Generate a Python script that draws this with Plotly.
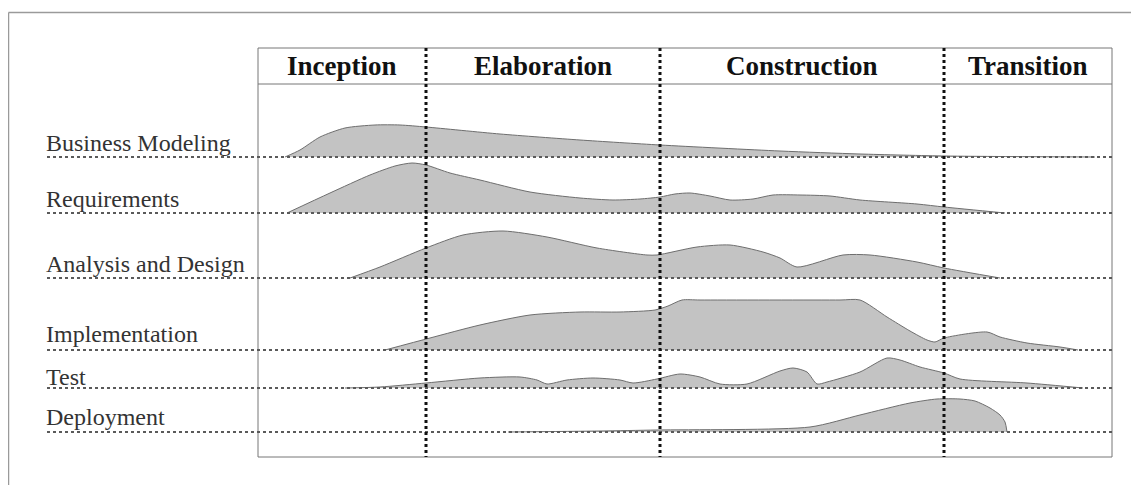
import plotly.graph_objects as go

# ---------------- data ----------------
phases = ["Inception", "Elaboration", "Construction", "Transition"]
phase_edges = [258, 426, 660, 944, 1112]          # time axis (chart units)

disciplines = ["Business Modeling", "Requirements", "Analysis and Design",
               "Implementation", "Test", "Deployment"]
row_base = [157, 213, 278, 350, 388, 432]          # baseline of each row
label_gap = [-1, -1, -1, 1, -4, 0]

bm_t = [285, 300, 320, 345, 375, 400, 426, 500, 580, 660, 780, 860, 945, 1000, 1095]
bm_h = [0, 7, 20, 29, 32, 32, 30, 23, 17, 12, 6, 3, 1, 0.5, 0]

req_t = [287, 330, 370, 395, 412, 426, 450, 480, 530, 580, 613, 640, 660, 675, 690,
         710, 730, 753, 773, 800, 830, 860, 917, 944, 1005]
req_h = [0, 20, 38, 47, 50, 48, 40, 33, 21, 15, 13, 14, 16, 19, 20,
         17, 13, 14, 18, 18, 17, 13, 9, 6, 0]

ad_t = [350, 380, 426, 463, 503, 547, 597, 647, 657, 697, 730, 763, 780, 797, 843,
        870, 917, 944, 1000]
ad_h = [0, 11, 30, 43, 47, 41, 30, 23, 23, 31, 33, 26, 20, 11, 23,
        23, 16, 10, 0]

imp_t = [385, 430, 480, 530, 580, 620, 655, 668, 682, 700, 840, 860, 887, 910, 927,
         935, 944, 987, 1000, 1027, 1060, 1078]
imp_h = [0, 12, 25, 35, 38, 38, 40, 44, 50, 50, 50, 50, 33, 19, 10,
         8, 12, 18, 13, 7, 3, 0]

test_t = [345, 380, 426, 480, 520, 537, 547, 567, 593, 620, 633, 657, 680, 700, 720,
          747, 780, 793, 807, 817, 827, 860, 887, 900, 920, 944, 960, 1027, 1083]
test_h = [0, 1, 5, 10, 11, 8, 4, 8, 10, 8, 5, 9, 14, 11, 4,
          4, 17, 20, 16, 4, 6, 16, 30, 28, 21, 15, 9, 5, 0]

dep_t = [508, 600, 657, 810, 860, 910, 937, 960, 975, 990, 1000, 1005, 1007]
dep_h = [0, 1, 2, 5, 17, 29, 33, 33, 31, 24, 17, 10, 0]

humps = [(bm_t, bm_h), (req_t, req_h), (ad_t, ad_h),
         (imp_t, imp_h), (test_t, test_h), (dep_t, dep_h)]

# ---------------- styles ----------------
W, H = 1139, 485
OFF = 8   # page body margin
FILL = "#c3c3c3"
EDGE = "#6e6e6e"
SERIF = "Liberation Serif, Times New Roman, serif"
box_top, header_bottom, box_bottom = 48, 84, 457
line_x = 47
label_x = 44

fig = go.Figure()

for (t, h), base in zip(humps, row_base):
    fig.add_trace(go.Scatter(x=[t[0], t[-1]], y=[base, base], mode="lines",
                             line=dict(width=0), hoverinfo="skip", showlegend=False))
    fig.add_trace(go.Scatter(x=t, y=[base - v for v in h], mode="lines",
                             line=dict(color=EDGE, width=1, shape="spline", smoothing=0.7),
                             fill="tonexty", fillcolor=FILL,
                             hoverinfo="skip", showlegend=False))

shapes = []
# outer frame
shapes.append(dict(type="line", x0=8.5, x1=W, y0=12.5, y1=12.5, line=dict(color="#9a9a9a", width=1.5)))
shapes.append(dict(type="line", x0=8.5, x1=8.5, y0=12.5, y1=H, line=dict(color="#9a9a9a", width=1.5)))
# main box
shapes.append(dict(type="rect", x0=phase_edges[0], x1=phase_edges[-1], y0=box_top, y1=box_bottom,
                   line=dict(color="#777777", width=1)))
shapes.append(dict(type="line", x0=phase_edges[0], x1=phase_edges[-1], y0=header_bottom,
                   y1=header_bottom, line=dict(color="#777777", width=1)))
# row baselines
for base in row_base:
    shapes.append(dict(type="line", x0=line_x, x1=phase_edges[-1], y0=base, y1=base,
                       layer="above", line=dict(color="#5a5a5a", width=2, dash="dot")))
# phase separators
for e in phase_edges[1:-1]:
    shapes.append(dict(type="line", x0=e, x1=e, y0=box_top, y1=box_bottom, layer="above",
                       line=dict(color="#111111", width=3, dash="dot")))

annotations = []
for i, p in enumerate(phases):
    annotations.append(dict(x=(phase_edges[i] + phase_edges[i + 1]) / 2,
                            y=(box_top + header_bottom) / 2, text="<b>%s</b>" % p,
                            showarrow=False, xanchor="center", yanchor="middle",
                            font=dict(family=SERIF, size=27, color="#111111")))
for d, base, g in zip(disciplines, row_base, label_gap):
    annotations.append(dict(x=label_x, y=base - g, text=d, showarrow=False,
                            xanchor="left", yanchor="bottom",
                            font=dict(family=SERIF, size=24, color="#333333")))

fig.update_layout(
    width=W - OFF, height=H - OFF, margin=dict(l=0, r=0, t=0, b=0),
    paper_bgcolor="white", plot_bgcolor="white",
    xaxis=dict(range=[OFF, W], visible=False, fixedrange=True),
    yaxis=dict(range=[H, OFF], visible=False, fixedrange=True),
    shapes=shapes, annotations=annotations, showlegend=False,
)

fig.write_html("out.html")
